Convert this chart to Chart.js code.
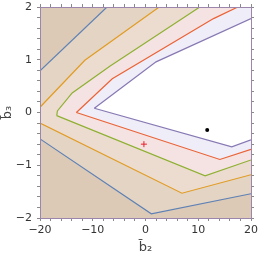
<!DOCTYPE html>
<html>
<head>
<meta charset="utf-8">
<script src="https://cdn.jsdelivr.net/npm/chart.js@4"></script>
<style>
  html, body { margin: 0; padding: 0; background: #fff; }
</style>
</head>
<body>
<canvas id="grafico" width="258" height="258"></canvas>
<script>
// Limites dos eixos
const b2Lim = [-20, 20];
const b3Lim = [-2, 2];
const b2Major = [-20, -10, 0, 10, 20];
const b3Major = [-2, -1, 0, 1, 2];

// Curvas de nível: ramo superior e ramo inferior [b2, b3]
const azulSup = [[-20, 0.79], [-7.3, 2]];
const azulInf = [[-20, -0.50], [1.1, -1.92], [20, -1.54]];
const laranjaSup = [[-20, 0.10], [-11.5, 0.99], [2.6, 2]];
const laranjaInf = [[-20, -0.20], [6.9, -1.53], [20, -1.18]];
const verdeSup = [[-16.83, -0.06], [-16.7, 0.03], [-13.9, 0.37], [-6.7, 0.88], [10.3, 2]];
const verdeInf = [[-16.83, -0.06], [11.3, -1.20], [20, -0.90]];
const vermelhoSup = [[-13.1, 0.0], [-6.3, 0.64], [12.9, 1.78], [17.5, 2]];
const vermelhoInf = [[-13.1, 0.0], [14.1, -0.89], [20, -0.70]];
const roxoSup = [[-9.7, 0.08], [2.0, 0.96], [20, 1.78]];
const roxoInf = [[-9.7, 0.08], [16.35, -0.65], [20, -0.52]];

// Pontos marcados
const pontoPreto = [[11.7, -0.33]];
const pontoVermelho = [[-0.3, -0.60]];

// Cores
const corFundo = '#dccab7';
const corMoldura = '#9d86ab';
const corTexto = '#333';

const pts = arr => arr.map(([x, y]) => ({ x, y }));

// Fecha a região interna de uma curva usando a borda direita / superior
function regiao(sup, inf) {
    const ultimo = sup[sup.length - 1];
    const poly = sup.slice();
    if (ultimo[0] < b2Lim[1]) poly.push([b2Lim[1], b3Lim[1]]);
    return poly.concat(inf.slice().reverse());
}

function preenchimento(poly, cor) {
    return {
        data: pts(poly), fill: 'shape', backgroundColor: cor,
        borderWidth: 0, borderColor: 'transparent', pointRadius: 0
    };
}

function linha(arr, cor) {
    return {
        data: pts(arr), fill: false, borderColor: cor, borderWidth: 1.2,
        pointRadius: 0, tension: 0
    };
}

const datasets = [
    { data: pts(pontoPreto), showLine: false, pointRadius: 2, pointBackgroundColor: '#000', pointBorderWidth: 0 },
    { data: pts(pontoVermelho), showLine: false, pointStyle: 'cross', pointRadius: 3, pointBorderColor: '#e8202a', pointBorderWidth: 1 },
    linha(roxoSup, '#8778b3'), linha(roxoInf, '#8778b3'),
    linha(vermelhoSup, '#eb6235'), linha(vermelhoInf, '#eb6235'),
    linha(verdeSup, '#8fb032'), linha(verdeInf, '#8fb032'),
    linha(laranjaSup, '#e19c24'), linha(laranjaInf, '#e19c24'),
    linha(azulSup, '#5e81b5'), linha(azulInf, '#5e81b5'),
    preenchimento(regiao(roxoSup, roxoInf), '#ffffff'),
    preenchimento(regiao(vermelhoSup, vermelhoInf), '#efedf8'),
    preenchimento(regiao(verdeSup, verdeInf), '#f4e3e2'),
    preenchimento(regiao(laranjaSup, laranjaInf), '#ecdcd0'),
    preenchimento(regiao(azulSup, azulInf), '#e4d4c3'),
    preenchimento([[b2Lim[0], b3Lim[0]], [b2Lim[1], b3Lim[0]], [b2Lim[1], b3Lim[1]], [b2Lim[0], b3Lim[1]]], corFundo)
];

const menos = v => String(v).replace('-', '\u2212');
const fonte = { family: 'DejaVu Sans', size: 11 };

function eixo(pos, lim, passo, major, tamanho, comRotulo, titulo) {
    return {
        type: 'linear', position: pos, min: lim[0], max: lim[1],
        ticks: {
            stepSize: passo, autoSkip: false, maxRotation: 0, color: corTexto, font: fonte,
            padding: pos === 'left' ? 5 : 3,
            callback: v => {
                if (!comRotulo) return '';
                const r = Math.round(v);
                return (Math.abs(v - r) < 1e-6 && major.includes(r)) ? menos(r) : '';
            }
        },
        grid: { drawOnChartArea: false, drawTicks: true, tickLength: 3, tickColor: '#8a8a8a' },
        border: { display: true, color: corMoldura, width: 1, z: 1 },
        title: titulo ? { display: true, text: titulo, color: '#444', font: { family: 'DejaVu Sans', size: 13 },
            padding: pos === 'left' ? { top: 0, bottom: 0 } : { top: 0, bottom: 3 } } : { display: false },
        afterFit: s => {
            // tamanho fixo da caixa e sem folga extra dos rótulos
            if (s.isHorizontal()) s.height = tamanho; else s.width = tamanho;
            s.paddingLeft = 0; s.paddingRight = 0; s.paddingTop = 0; s.paddingBottom = 0;
        }
    };
}

new Chart(document.getElementById('grafico').getContext('2d'), {
    type: 'line',
    data: { datasets },
    options: {
        responsive: false,
        devicePixelRatio: 1,
        animation: false,
        layout: { padding: 0 },
        plugins: { legend: { display: false }, tooltip: { enabled: false } },
        scales: {
            x: eixo('bottom', b2Lim, 2, b2Major, 40, true, 'b\u0304\u2082'),
            y: eixo('left', b3Lim, 0.2, b3Major, 40, true, 'b\u0304\u2083'),
            xTopo: eixo('top', b2Lim, 2, b2Major, 7, false, null),
            yDir: eixo('right', b3Lim, 0.2, b3Major, 7, false, null)
        }
    }
});
</script>
</body>
</html>
